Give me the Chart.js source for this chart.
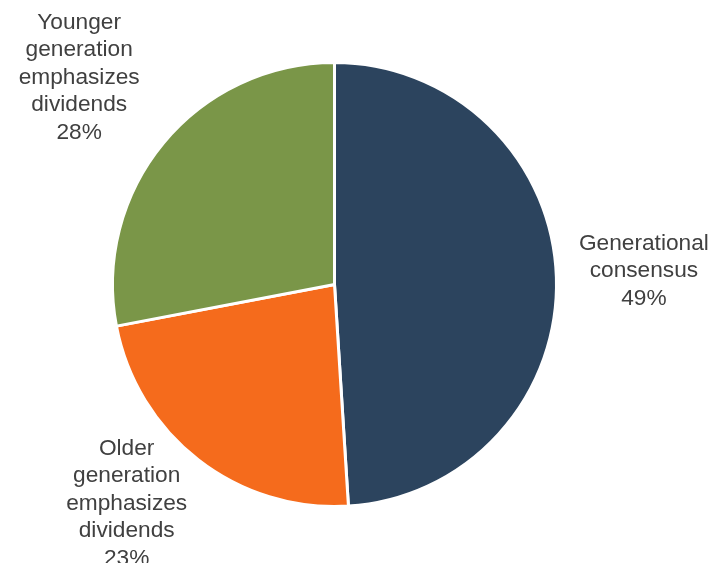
<!DOCTYPE html>
<html>
<head>
<meta charset="utf-8">
<script src="https://cdn.jsdelivr.net/npm/chart.js@4/dist/chart.umd.min.js"></script>
<style>
  html, body { margin: 0; padding: 0; background: #fff; }
  #wrap { width: 717px; height: 563px; }
</style>
</head>
<body>
<div id="wrap"><canvas id="myChart" width="717" height="563"></canvas></div>
<script>
// slice names (one line per text row) and their shares, clockwise from 12 o'clock
const categories = [
    ['Generational', 'consensus'],
    ['Older', 'generation', 'emphasizes', 'dividends'],
    ['Younger', 'generation', 'emphasizes', 'dividends']
];
const shares = [49, 23, 28];
const sliceColors = ['#2C445E', '#F56B1C', '#7A9648'];

// writes each label block outside its slice, near the slice's middle angle
const outsideLabels = {
    id: 'outsideLabels',
    afterDatasetsDraw(chart, args, opts) {
        const ctx = chart.ctx;
        const arcs = chart.getDatasetMeta(0).data;
        ctx.save();
        ctx.font = opts.font;
        ctx.fillStyle = opts.color;
        ctx.textAlign = 'center';
        ctx.textBaseline = 'middle';
        arcs.forEach((arc, i) => {
            const mid = (arc.startAngle + arc.endAngle) / 2 + opts.nudge[i] * Math.PI / 180;
            const dist = arc.outerRadius * opts.distance[i];
            const cx = arc.x + Math.cos(mid) * dist;
            const cy = arc.y + Math.sin(mid) * dist;
            const lines = categories[i].concat([shares[i] + '%']);
            const top = cy - (lines.length - 1) * opts.lineHeight / 2;
            lines.forEach((line, j) => ctx.fillText(line, cx, top + j * opts.lineHeight));
        });
        ctx.restore();
    }
};

const data = {
    labels: categories.map(c => c.join(' ')),
    datasets: [{
        data: shares,
        backgroundColor: sliceColors,
        borderColor: '#ffffff',
        borderWidth: 3
    }]
};

const config = {
    type: 'pie',
    data,
    options: {
        responsive: false,
        animation: false,
        layout: { padding: { left: 111, right: 159, top: 61, bottom: 55 } },
        plugins: {
            legend: { display: false },
            tooltip: { enabled: false },
            outsideLabels: {
                font: '22.7px "Liberation Sans", Arial, sans-serif',
                color: '#404040',
                lineHeight: 27.5,
                distance: [1.395, 1.36, 1.48],
                nudge: [-0.7, 5.7, -0.6]
            }
        }
    },
    plugins: [outsideLabels]
};

new Chart(document.getElementById('myChart'), config);
</script>
</body>
</html>
